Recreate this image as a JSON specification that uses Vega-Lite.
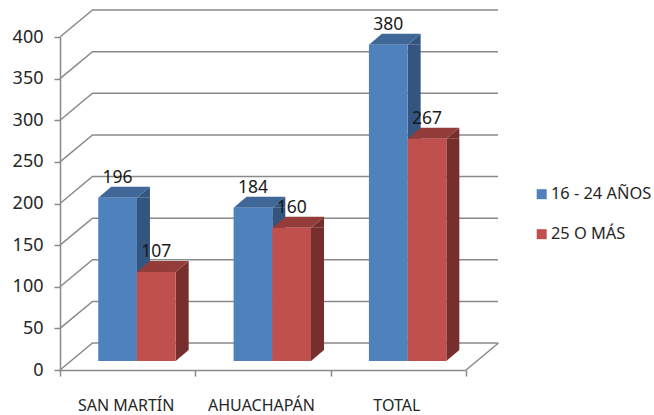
{
"$schema":"https://vega.github.io/schema/vega-lite/v6.json",
"width":406,"height":333,
"autosize":{"type":"none"},
"padding":{"left":60,"top":37,"right":188,"bottom":45},
"background":"white",
"config":{"view":{"stroke":null},"font":"Noto Sans"},
"datasets":{"bars":[
  {"category":"SAN MARTÍN","series":"16 - 24 AÑOS","value":196},
  {"category":"SAN MARTÍN","series":"25 O MÁS","value":107},
  {"category":"AHUACHAPÁN","series":"16 - 24 AÑOS","value":184},
  {"category":"AHUACHAPÁN","series":"25 O MÁS","value":160},
  {"category":"TOTAL","series":"16 - 24 AÑOS","value":380},
  {"category":"TOTAL","series":"25 O MÁS","value":267}]},
"layer":[
{"data":{"values":[{"tick":0},{"tick":50},{"tick":100},{"tick":150},{"tick":200},{"tick":250},{"tick":300},{"tick":350},{"tick":400}]},
 "mark":{"type":"point","shape":"M0,0L32.5,-27L438,-27","size":4,"filled":false,"stroke":"#8a8a8a","strokeWidth":1.5,"opacity":1},
 "encoding":{
  "x":{"datum":"SAN MARTÍN","bandPosition":0,"type":"nominal","scale":{"domain":["SAN MARTÍN","AHUACHAPÁN","TOTAL"],"paddingInner":0,"paddingOuter":0},
   "axis":{"title":null,"labelAngle":0,"labelFontSize":16,"labelColor":"#262626","labelPadding":21,"tickBand":"extent","tickSize":6,"tickColor":"#8a8a8a","tickWidth":1.5,"domainColor":"#8a8a8a","domainWidth":1.5,"labelOffset":-2}},
  "y":{"field":"tick","type":"quantitative","scale":{"domain":[0,400],"nice":false},
   "axis":{"title":null,"values":[0,50,100,150,200,250,300,350,400],"grid":false,"labelFontSize":18,"labelColor":"#262626","labelPadding":11,"tickSize":6,"tickColor":"#8a8a8a","tickWidth":1.5,"domainColor":"#8a8a8a","domainWidth":1.5}}
 }},
{"data":{"values":[{"tick":0}]},
 "mark":{"type":"point","shape":"M0,0L32.5,-27","size":4,"filled":false,"stroke":"#8a8a8a","strokeWidth":1.5,"opacity":1},
 "encoding":{"x":{"datum":"TOTAL","bandPosition":1,"type":"nominal"},"y":{"field":"tick","type":"quantitative"}}},
{"data":{"name":"bars"},"transform":[{"filter":"datum.series === '16 - 24 AÑOS'"}],
 "mark":{"type":"bar","width":13,"xOffset":15.8,"yOffset":-9,"y2Offset":-20,"fill":"#33557f"},
 "encoding":{"x":{"field":"category","type":"nominal","sort":null},"y":{"field":"value","type":"quantitative","stack":null},"y2":{"datum":0}}},
{"data":{"name":"bars"},"transform":[{"filter":"datum.series === '25 O MÁS'"}],
 "mark":{"type":"bar","width":13,"xOffset":54.5,"yOffset":-9,"y2Offset":-20,"fill":"#772f2d"},
 "encoding":{"x":{"field":"category","type":"nominal","sort":null},"y":{"field":"value","type":"quantitative","stack":null},"y2":{"datum":0}}},
{"data":{"name":"bars"},
 "encoding":{
  "x":{"field":"category","type":"nominal","sort":null},
  "xOffset":{"field":"series","type":"nominal","scale":{"paddingInner":0,"paddingOuter":0.748,"align":0.6606}},
  "y":{"field":"value","type":"quantitative","stack":null}
 },
 "layer":[
  {"mark":{"type":"point","shape":"M19.35,0L32.35,-11L32.35,0Z","size":4,"filled":true,"opacity":1,"strokeWidth":0,"yOffset":-9},
   "encoding":{"fill":{"field":"series","type":"nominal","legend":null,"scale":{"range":["#33557f","#772f2d"]}}}},
  {"mark":{"type":"point","shape":"M19.35,0L19.35,-11L32.35,-11Z","size":4,"filled":true,"opacity":1,"strokeWidth":0,"yOffset":-9},
   "encoding":{"y":{"datum":0,"type":"quantitative"},"fill":{"field":"series","type":"nominal","legend":null,"scale":{"range":["#33557f","#772f2d"]}}}},
  {"mark":{"type":"point","shape":"M-19.35,0L-6.35,-11L32.35,-11L19.35,0Z","size":4,"filled":true,"opacity":1,"strokeWidth":0,"yOffset":-9},
   "encoding":{"fill":{"field":"series","type":"nominal","legend":null,"scale":{"range":["#3f6797","#933c3a"]}}}},
  {"mark":{"type":"bar","yOffset":-9,"y2Offset":-9},
   "encoding":{"y2":{"datum":0},"fill":{"field":"series","type":"nominal","scale":{"range":["#4f81bd","#c0504d"]},
     "legend":{"title":null,"orient":"none","legendX":473.5,"legendY":149,"symbolType":"square","symbolSize":100,"symbolStrokeWidth":0,"labelFontSize":16.4,"labelColor":"#262626","labelOffset":1,"rowPadding":23,"padding":0}}}},
  {"mark":{"type":"text","fontSize":17.5,"color":"#1a1a1a","yOffset":-29},
   "encoding":{"text":{"field":"value","type":"quantitative"}}}
 ],
 "resolve":{"scale":{"fill":"independent"}}
}
]}
